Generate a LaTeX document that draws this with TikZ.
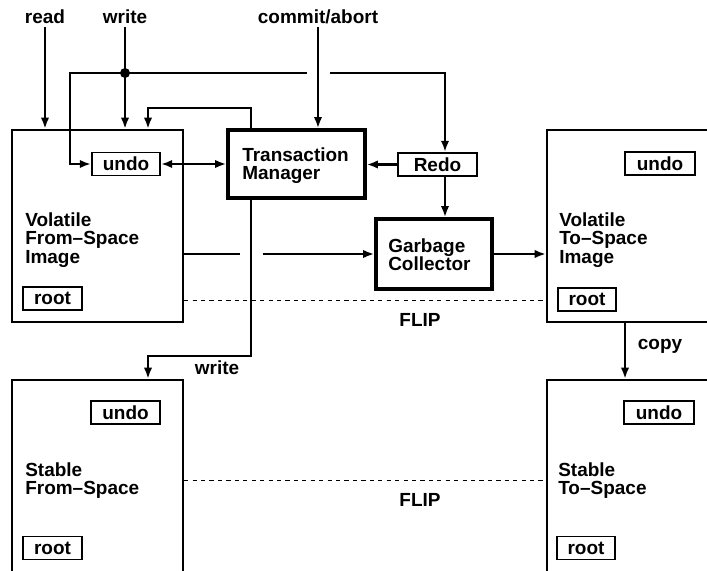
\documentclass[tikz,border=0pt]{standalone}
\usepackage{fontspec}
\setmainfont{Liberation Sans}
\usetikzlibrary{arrows.meta}
\newcommand{\pxu}{0.025cm}

\begin{document}
\begin{tikzpicture}[x=\pxu, y=-\pxu, >={Latex[length=8pt,width=6pt]},
		font=\bfseries\fontsize{13.5}{13.2}\selectfont,
		space/.style={draw, line width=1.6pt, inner sep=0pt},
		unit/.style={draw, line width=2.4pt, inner sep=0pt},
		slot/.style={draw, line width=1.4pt, inner sep=0pt, minimum height=23*\pxu},
		txt/.style={inner sep=0pt, align=left, anchor=north west},
		tag/.style={inner sep=2pt, text height=9.5pt, text depth=0pt},
		wire/.style={line width=1.6pt},
		flip/.style={thin, dashed}]
		\useasboundingbox (0,0) rectangle (707,570);
		% the four images
		\node[space, minimum width=171*\pxu, minimum height=192*\pxu] (vfrom) at (97.5,226) {};
		\node[space, minimum width=213*\pxu, minimum height=192*\pxu] (vto) at (653.5,226) {};
		\node[space, minimum width=171*\pxu, minimum height=240*\pxu] (sfrom) at (97.5,500) {};
		\node[space, minimum width=213*\pxu, minimum height=240*\pxu] (sto) at (653.5,500) {};
		\node[txt] (vfromtxt) at (25,212) {Volatile\\From--Space\\Image};
		\node[txt] (vtotxt) at (559,212) {Volatile\\To--Space\\Image};
		\node[txt] (sfromtxt) at (25,462) {Stable\\From--Space};
		\node[txt] (stotxt) at (558,462) {Stable\\To--Space};
		% undo and root areas
		\node[slot, minimum width=68*\pxu] (undo1) at (126,164) {undo};
		\node[slot, minimum width=70*\pxu] (undo2) at (660,163.5) {undo};
		\node[slot, minimum width=69*\pxu] (undo3) at (125.5,412.5) {undo};
		\node[slot, minimum width=70*\pxu] (undo4) at (659,412.5) {undo};
		\node[slot, minimum width=59*\pxu] (root1) at (52.5,298.5) {root};
		\node[slot, minimum width=58*\pxu] (root2) at (587,299.5) {root};
		\node[slot, minimum width=59*\pxu] (root3) at (52.5,548) {root};
		\node[slot, minimum width=58*\pxu] (root4) at (586,548) {root};
		% manager, redo log, collector
		\node[unit, minimum width=137*\pxu, minimum height=68*\pxu] (tm) at (296.5,164) {};
		\node[txt] (tmtxt) at (242,147) {Transaction\\Manager};
		\node[slot, minimum width=79*\pxu] (redo) at (437.5,164.5) {Redo};
		\node[unit, minimum width=116*\pxu, minimum height=70*\pxu] (gc) at (434,254) {};
		\node[txt] (gctxt) at (388,238) {Garbage\\Collector};
		% labels
		\node[tag] (read) at (45,17) {read};
		\node[tag] (write) at (125,17) {write};
		\node[tag] (commit) at (318,17) {commit/abort};
		\node[tag] (write2) at (217,368) {write};
		\node[tag] (copy) at (660,343) {copy};
		\node[tag] (flip1) at (420,320) {FLIP};
		\node[tag] (flip2) at (420,500) {FLIP};
		% bends and gaps
		\coordinate (dot) at (125,73);
		\coordinate (lx) at (70,73);
		\coordinate (gapl) at (307,73);
		\coordinate (gapr) at (330,73);
		\coordinate (rx) at (445,73);
		\coordinate (loopr) at (251,108);
		\coordinate (loopl) at (148,108);
		\coordinate (gapd) at (240,254);
		\coordinate (gapu) at (263,254);
		\coordinate (wr) at (251,356);
		\coordinate (wl) at (148,356);
		\coordinate (cpx) at (625,340);
		\coordinate (fa) at (0,300);
		\coordinate (fb) at (0,480);
		% inputs
		\draw[wire, ->] (read.south) -- (read.south |- vfrom.north);
		\draw[wire, ->] (write.south) -- (write.south |- vfrom.north);
		\draw[wire, ->] (commit.south) -- (commit.south |- tm.north);
		\fill (dot) circle (5);
		\draw[wire, ->] (dot) -- (lx) -- (lx |- undo1.west) -- (undo1.west);
		\draw[wire] (dot) -- (gapl);
		\draw[wire, ->] (gapr) -- (rx) -- (rx |- redo.north);
		\draw[wire, ->] (loopr |- tm.north) -- (loopr) -- (loopl) -- (loopl |- vfrom.north);
		% manager links
		\draw[wire, <->] (undo1.east) -- (undo1.east -| tm.west);
		\draw[wire, ->] (redo.west) -- (redo.west -| tm.east);
		\draw[wire, ->] (rx |- redo.south) -- (rx |- gc.north);
		\draw[wire] (vfrom.east |- gapd) -- (gapd);
		\draw[wire, ->] (gapu) -- (gc.west);
		\draw[wire, ->] (gc.east) -- (gc.east -| vto.west);
		\draw[wire, ->] (wr |- tm.south) -- (wr) -- (wl) -- (wl |- sfrom.north);
		\draw[wire, ->] (cpx |- vto.south) -- (cpx |- sto.north);
		% flips
		\draw[flip] (vfrom.east |- fa) -- (vto.west |- fa);
		\draw[flip] (sfrom.east |- fb) -- (sto.west |- fb);
	\end{tikzpicture}
\end{document}
